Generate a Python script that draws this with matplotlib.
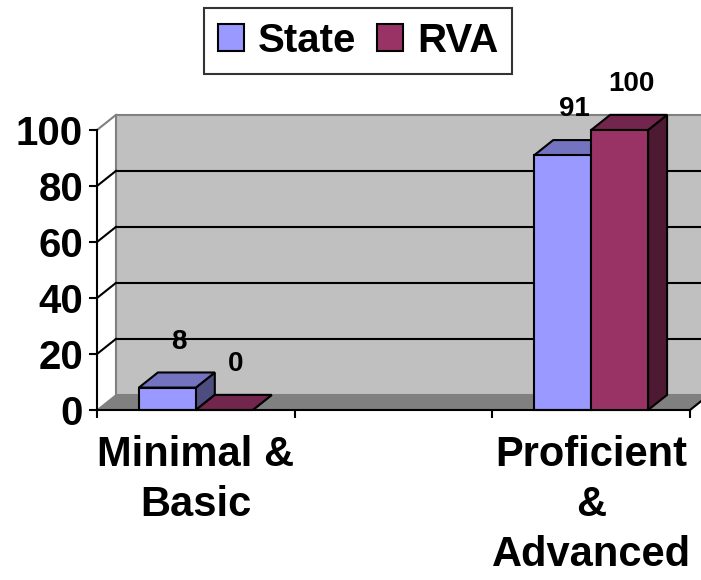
import numpy as np
import matplotlib
matplotlib.use('Agg')
import matplotlib.pyplot as plt
from matplotlib.patches import Polygon, Rectangle, Patch

plt.rcParams['font.family'] = ['Liberation Sans', 'DejaVu Sans']
plt.rcParams['font.weight'] = 'bold'

# data
categories = ['Minimal &\nBasic', '', 'Proficient\n&\nAdvanced']
series = ['State', 'RVA']
state = [8, np.nan, 91]
rva = [0, np.nan, 100]
yticks = [0, 20, 40, 60, 80, 100]

front_cols = ['#9999FF', '#993366']
top_cols = ['#7373BF', '#73264D']
side_cols = ['#4D4D80', '#4D1933']

fig = plt.figure(figsize=(7.01, 5.8), dpi=100)
ax = fig.add_axes([97/701, 170/580, 593/701, 280/580])
ncat = len(categories)
ax.set_xlim(0, ncat)
ax.set_ylim(0, 100)
ax.patch.set_visible(False)

# depth offset of the 3d look, in data units
dx = 0.096
dy = 5.4
bw = 0.288

# back wall + floor
ax.add_patch(Polygon([(dx, dy), (ncat + dx, dy), (ncat + dx, 100 + dy), (dx, 100 + dy)],
                     closed=True, facecolor='#C0C0C0', edgecolor='#808080', lw=1.5,
                     clip_on=False, zorder=0))
ax.add_patch(Polygon([(0, 0), (ncat, 0), (ncat + dx, dy), (dx, dy)], closed=True,
                     facecolor='#808080', edgecolor='#808080', lw=1, clip_on=False, zorder=0.5))
ax.plot([ncat, ncat + dx], [0, dy], color='black', lw=1.5, clip_on=False, zorder=0.6)
ax.plot([0, dx], [100, 100 + dy], color='#808080', lw=1.5, clip_on=False, zorder=0.6)

# gridlines on back wall and side wall
for v in yticks[1:-1]:
    ax.plot([dx, ncat + dx], [v + dy, v + dy], color='black', lw=1.5, clip_on=False, zorder=0.7)
    ax.plot([0, dx], [v, v + dy], color='black', lw=1.5, clip_on=False, zorder=0.7)

# bars
z = 2
for i in range(ncat):
    for s, vals in enumerate([state, rva]):
        v = vals[i]
        if np.isnan(v):
            continue
        x0 = i + (1 - 2 * bw) / 2 + s * bw
        ax.add_patch(Polygon([(x0 + bw, 0), (x0 + bw + dx, dy), (x0 + bw + dx, v + dy), (x0 + bw, v)],
                             closed=True, facecolor=side_cols[s], edgecolor='black', lw=1.5,
                             clip_on=False, zorder=z))
        ax.add_patch(Polygon([(x0, v), (x0 + bw, v), (x0 + bw + dx, v + dy), (x0 + dx, v + dy)],
                             closed=True, facecolor=top_cols[s], edgecolor='black', lw=1.5,
                             clip_on=False, zorder=z))
        if v > 0:
            ax.add_patch(Rectangle((x0, 0), bw, v, facecolor=front_cols[s], edgecolor='black',
                                   lw=1.5, clip_on=False, zorder=z + 0.5))
        ax.text(x0 + bw / 2 + dx * 0.6, v + dy + 11, f'{v:g}', ha='center', va='center',
                fontsize=20, fontweight='bold', zorder=10)
        z += 1

# axes
for sp in ['top', 'right']:
    ax.spines[sp].set_visible(False)
for sp in ['left', 'bottom']:
    ax.spines[sp].set_linewidth(1.5)
    ax.spines[sp].set_zorder(5)
ax.set_yticks(yticks)
ax.set_yticklabels([str(t) for t in yticks], fontsize=29, fontweight='bold')
ax.tick_params(axis='y', direction='out', length=6, width=1.5, pad=4)
ax.set_xticks(range(ncat + 1))
ax.set_xticklabels([])
ax.tick_params(axis='x', which='major', direction='out', length=6, width=1.5)
ax.set_xticks(np.arange(ncat) + 0.5, minor=True)
ax.set_xticklabels(categories, minor=True, fontsize=30, fontweight='bold', linespacing=1.33)
ax.tick_params(axis='x', which='minor', length=0, pad=18)

# legend
handles = [Patch(facecolor=front_cols[s], edgecolor='black', lw=1.5) for s in range(2)]
leg = fig.legend(handles, series, loc='center', bbox_to_anchor=(358/701, 1 - 41/580), ncol=2,
                 frameon=True, fancybox=False, edgecolor='black',
                 prop={'size': 29, 'weight': 'bold'}, handlelength=0.65, handleheight=0.65,
                 handletextpad=0.35, columnspacing=0.5, borderpad=0.35, borderaxespad=0)
leg.get_frame().set_linewidth(1.5)

fig.savefig('out.png', dpi=100)
